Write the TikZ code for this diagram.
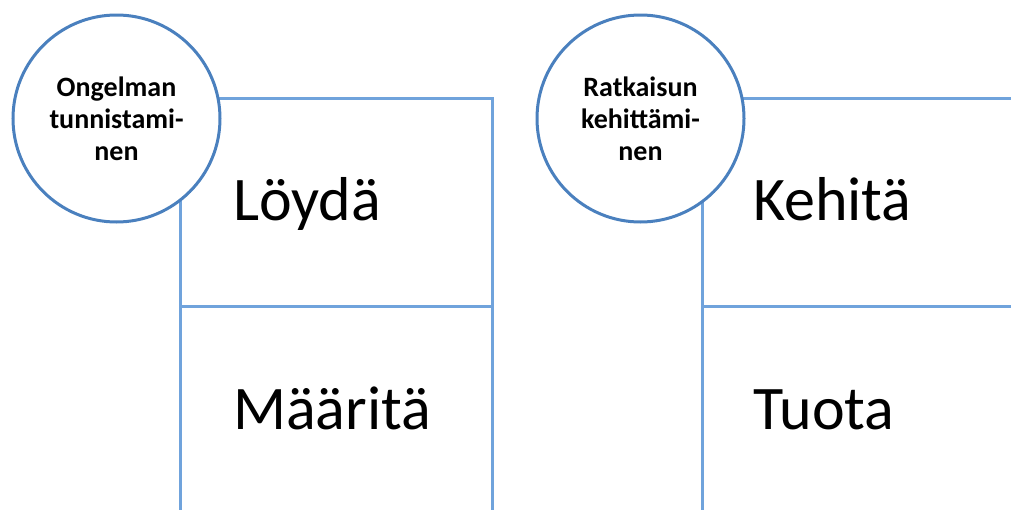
\documentclass[tikz,border=0pt]{standalone}
\usepackage{fontspec}
\setmainfont{Carlito}
\definecolor{boxline}{RGB}{112,163,220}
\definecolor{ringline}{RGB}{74,128,190}
\tikzset{
  frame/.style={draw=boxline, line width=3pt},
  ring/.style={circle, draw=ringline, line width=3pt, fill=white, minimum size=207pt, inner sep=0pt, align=center, font=\fontsize{28}{32}\selectfont\bfseries},
  word/.style={anchor=base west, inner sep=0pt, font=\fontsize{62}{62}\selectfont},
}
\begin{document}
\begin{tikzpicture}[x=1pt,y=-1pt]
\useasboundingbox (0,0) rectangle (1011,509);
% left panel frame
\coordinate (lTL) at (180,98);
\coordinate (lTR) at (492,98);
\coordinate (lML) at (180,306);
\coordinate (lMR) at (492,306);
\coordinate (lBL) at (180,512);
\coordinate (lBR) at (492,512);
\draw[frame] (lBL) -- (lTL) -- (lTR) -- (lBR);
\draw[frame] (lML) -- (lMR);
% right panel frame
\coordinate (rTL) at (702,98);
\coordinate (rTR) at (1013,98);
\coordinate (rML) at (702,306);
\coordinate (rMR) at (1013,306);
\coordinate (rBL) at (702,512);
\draw[frame] (rBL) -- (rTL) -- (rTR);
\draw[frame] (rML) -- (rMR);
% circles
\node[ring] (c1) at (116.5,118.5) {Ongelman\\tunnistami-\\nen};
\node[ring] (c2) at (640.5,118.5) {Ratkaisun\\kehittämi-\\nen};
% words
\node[word] (w1) at (233,220) {Löydä};
\node[word] (w2) at (233,429) {Määritä};
\node[word] (w3) at (753,220) {Kehitä};
\node[word] (w4) at (753,429) {Tuota};
\end{tikzpicture}
\end{document}
